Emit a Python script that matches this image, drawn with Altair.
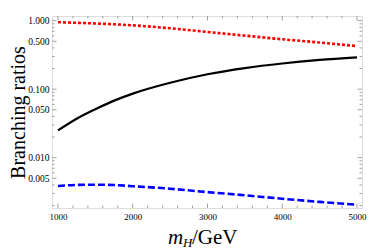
import altair as alt
import pandas as pd

# ---- data ----
mass = [1000, 1250, 1500, 1750, 2000, 2500, 3000, 3500, 4000, 4500, 5000]
br_black = [0.025, 0.037, 0.051, 0.068, 0.086, 0.124, 0.165, 0.203, 0.237, 0.267, 0.292]
br_red = [0.95, 0.93, 0.91, 0.885, 0.855, 0.775, 0.685, 0.605, 0.535, 0.48, 0.425]
br_blue = [0.00385, 0.00400, 0.00403, 0.00398, 0.00383, 0.00352, 0.00314, 0.00282, 0.00251, 0.00226, 0.00205]

x_labels = [1000, 2000, 3000, 4000, 5000]
x_minor = [v for v in range(1000, 5001, 200) if v % 1000 != 0]
y_labels = [0.005, 0.01, 0.05, 0.1, 0.5, 1.0]
y_minor = [0.002, 0.003, 0.004, 0.006, 0.007, 0.008, 0.009,
           0.02, 0.03, 0.04, 0.06, 0.07, 0.08, 0.09,
           0.2, 0.3, 0.4, 0.6, 0.7, 0.8, 0.9]

W, H = 310, 192
FRAME = "#8c8c8c"
SERIF = "Liberation Serif"

xs = alt.Scale(domain=[920, 5067], nice=False, zero=False)
ys = alt.Scale(type="log", domain=[0.00184, 1.17], nice=False)

df = pd.DataFrame({"m": mass, "black": br_black, "red": br_red, "blue": br_blue})

x_axis = alt.Axis(values=x_labels, format="d", labelFont=SERIF, labelFontSize=9,
                  labelColor="black", labelPadding=4, ticks=False, tickSize=0,
                  domain=False, grid=False, title=None, labelFlush=False)
y_axis = alt.Axis(values=y_labels, format=".3f", labelFont=SERIF, labelFontSize=9.5,
                  labelColor="black", labelPadding=3, ticks=False, tickSize=0,
                  domain=False, grid=False, title="Branching ratios",
                  titleFont=SERIF, titleFontSize=20, titleFontWeight="normal",
                  titleColor="black", titleAngle=270, titleX=-34, titleY=H / 2,
                  titleAlign="center", titleBaseline="middle")

X = lambda f: alt.X(f, scale=xs, axis=x_axis)
Y = lambda f: alt.Y(f, scale=ys, axis=y_axis)

base = alt.Chart(df)
red = base.mark_line(color="#ff0000", strokeWidth=2.6, strokeDash=[3, 2],
                     interpolate="monotone").encode(x=X("m:Q"), y=Y("red:Q"))
black = base.mark_line(color="black", strokeWidth=2.2,
                       interpolate="monotone").encode(x=X("m:Q"), y=Y("black:Q"))
blue = base.mark_line(color="#0000ff", strokeWidth=2.6, strokeDash=[7, 3],
                      interpolate="monotone").encode(x=X("m:Q"), y=Y("blue:Q"))

xmaj = pd.DataFrame({"v": x_labels})
xmin = pd.DataFrame({"v": x_minor})
ymaj = pd.DataFrame({"v": y_labels})
ymin = pd.DataFrame({"v": y_minor})


def xticks(d, length):
    bot = alt.Chart(d).mark_rule(color=FRAME, strokeWidth=0.8).encode(
        x=X("v:Q"), y=alt.value(H), y2=alt.value(H - length))
    top = alt.Chart(d).mark_rule(color=FRAME, strokeWidth=0.8).encode(
        x=X("v:Q"), y=alt.value(0), y2=alt.value(length))
    return [bot, top]


def yticks(d, length):
    left = alt.Chart(d).mark_rule(color=FRAME, strokeWidth=0.8).encode(
        y=Y("v:Q"), x=alt.value(0), x2=alt.value(length))
    right = alt.Chart(d).mark_rule(color=FRAME, strokeWidth=0.8).encode(
        y=Y("v:Q"), x=alt.value(W), x2=alt.value(W - length))
    return [left, right]


ticks = xticks(xmaj, 4.5) + xticks(xmin, 2.5) + yticks(ymaj, 4.5) + yticks(ymin, 2.5)

title_df = pd.DataFrame({"a": [0]})
t_m = alt.Chart(title_df).mark_text(font=SERIF, fontSize=21, fontStyle="italic",
                                    align="left", baseline="alphabetic", color="black").encode(
    x=alt.value(116), y=alt.value(228), text=alt.value("m"))
t_h = alt.Chart(title_df).mark_text(font=SERIF, fontSize=13, fontStyle="italic",
                                    align="left", baseline="alphabetic", color="black").encode(
    x=alt.value(131), y=alt.value(231), text=alt.value("H"))
t_gev = alt.Chart(title_df).mark_text(font=SERIF, fontSize=21,
                                      align="left", baseline="alphabetic", color="black").encode(
    x=alt.value(140), y=alt.value(228), text=alt.value("/GeV"))

chart = alt.layer(red, black, blue, *ticks, t_m, t_h, t_gev).properties(
    width=W, height=H,
    autosize=alt.AutoSizeParams(type="none"),
    padding={"left": 44, "top": 8, "right": 12, "bottom": 43},
).configure_view(stroke=FRAME, strokeWidth=1).configure(background="white")

chart.save("out.html", embed_options={"renderer": "svg", "actions": False})
